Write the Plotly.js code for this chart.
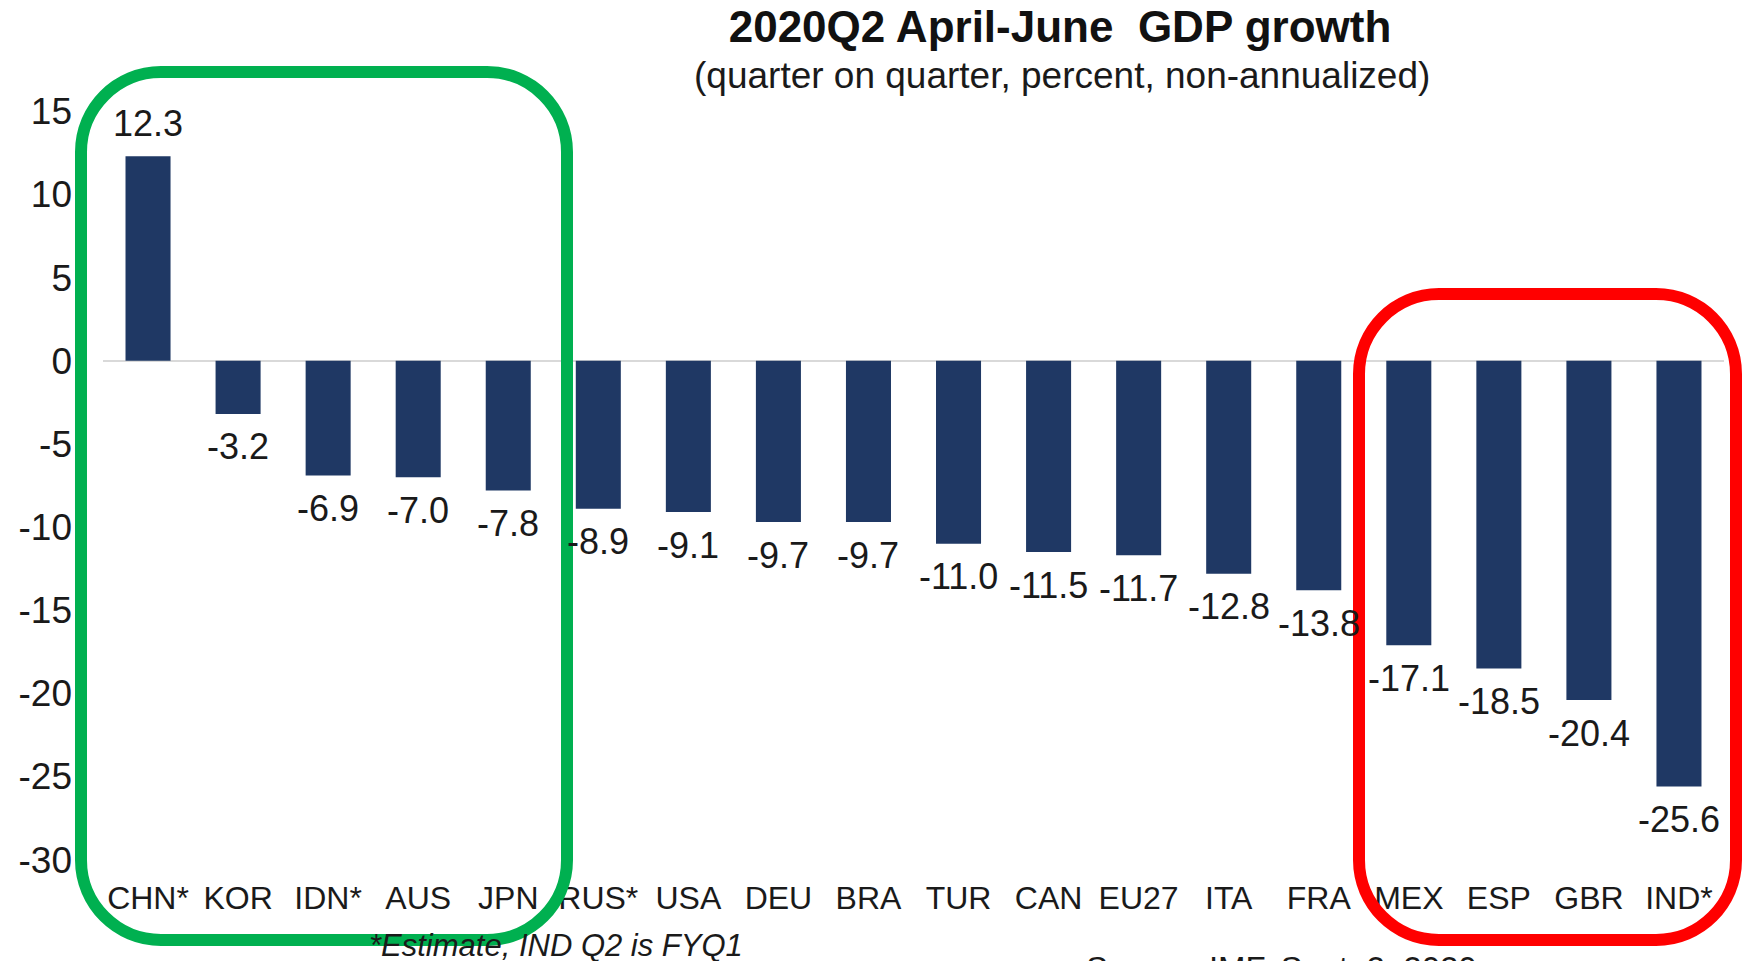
<!DOCTYPE html>
<html>
<head>
<meta charset="utf-8">
<script src="https://cdn.plot.ly/plotly-3.0.1.min.js"></script>
<style>html,body{margin:0;padding:0;background:#fff;}#chart{width:1744px;height:961px;}</style>
</head>
<body>
<div id="chart"></div>
<script>
const countries = ["CHN*", "KOR", "IDN*", "AUS", "JPN", "RUS*", "USA", "DEU", "BRA", "TUR", "CAN", "EU27", "ITA", "FRA", "MEX", "ESP", "GBR", "IND*"];
const growth = [12.3, -3.2, -6.9, -7.0, -7.8, -8.9, -9.1, -9.7, -9.7, -11.0, -11.5, -11.7, -12.8, -13.8, -17.1, -18.5, -20.4, -25.6];
const yTicks = [15, 10, 5, 0, -5, -10, -15, -20, -25, -30];

const W = 1744, H = 961;
const M = {l: 103, r: 20, t: 111, b: 101};
const PW = W - M.l - M.r, PH = H - M.t - M.b;
const px = x => (x - M.l) / PW;
const py = y => (H - M.b - y) / PH;

function roundRect(L, T, R, B, r) {
  const k = 0.5523 * r;
  const xl = px(L), xr = px(R), yt = py(T), yb = py(B);
  const rx = r / PW, ry = r / PH, kx = k / PW, ky = k / PH;
  return `M ${xl + rx},${yt} L ${xr - rx},${yt} C ${xr - rx + kx},${yt} ${xr},${yt - ry + ky} ${xr},${yt - ry} ` +
         `L ${xr},${yb + ry} C ${xr},${yb + ry - ky} ${xr - rx + kx},${yb} ${xr - rx},${yb} ` +
         `L ${xl + rx},${yb} C ${xl + rx - kx},${yb} ${xl},${yb + ry - ky} ${xl},${yb + ry} ` +
         `L ${xl},${yt - ry} C ${xl},${yt - ry + ky} ${xl + rx - kx},${yt} ${xl + rx},${yt} Z`;
}

const font = "'Liberation Sans', Arial, Helvetica, sans-serif";

const trace = {
  type: 'bar',
  x: countries,
  y: growth,
  marker: {color: '#1f3864'},
  hoverinfo: 'x+y'
};

const valueAnnotations = countries.map((c, i) => ({
  x: c, y: growth[i], xref: 'x', yref: 'y',
  text: growth[i].toFixed(1),
  showarrow: false,
  yanchor: 'middle', xanchor: 'center',
  yshift: growth[i] >= 0 ? 33 : -33,
  font: {family: font, size: 36, color: '#1a1a1a'}
}));

const layout = {
  width: W, height: H,
  margin: M,
  paper_bgcolor: '#ffffff', plot_bgcolor: '#ffffff',
  showlegend: false,
  bargap: 0.5,
  title: {
    text: '<b>2020Q2 April-June  GDP growth</b>',
    x: 1060 / W, xref: 'container', xanchor: 'center',
    y: 1 - 27 / H, yref: 'container', yanchor: 'middle',
    font: {family: font, size: 44, color: '#111111'}
  },
  xaxis: {
    type: 'category',
    showgrid: false, showline: false, zeroline: false, ticks: '',
    tickfont: {family: font, size: 32, color: '#1a1a1a'},
    ticklabelstandoff: 16
  },
  yaxis: {
    range: [-30.02, 15.02],
    tickvals: yTicks,
    ticktext: yTicks.map(String),
    showgrid: false, showline: false, ticks: '',
    zeroline: true, zerolinecolor: '#d9d9d9', zerolinewidth: 2,
    tickfont: {family: font, size: 37, color: '#1a1a1a'},
    ticklabelstandoff: 30
  },
  annotations: valueAnnotations.concat([
    {
      xref: 'paper', yref: 'paper', x: px(1062), y: py(75),
      xanchor: 'center', yanchor: 'middle', showarrow: false,
      text: '(quarter on quarter, percent, non-annualized)',
      font: {family: font, size: 37, color: '#1a1a1a'}
    },
    {
      xref: 'paper', yref: 'paper', x: px(556), y: py(926),
      xanchor: 'center', yanchor: 'top', showarrow: false,
      text: '<i>*Estimate, IND Q2 is FYQ1</i>',
      font: {family: font, size: 31, color: '#1a1a1a'}
    },
    {
      xref: 'paper', yref: 'paper', x: px(1084), y: py(948),
      xanchor: 'left', yanchor: 'top', showarrow: false,
      text: 'Source: IMF, Sept. 2, 2020',
      font: {family: font, size: 33, color: '#1a1a1a'}
    }
  ]),
  shapes: [
    {type: 'path', xref: 'paper', yref: 'paper', layer: 'above',
     path: roundRect(81, 72, 567, 940, 80), line: {color: '#00b050', width: 12}},
    {type: 'path', xref: 'paper', yref: 'paper', layer: 'above',
     path: roundRect(1359, 294, 1736, 940, 80), line: {color: '#ff0000', width: 12}}
  ]
};

Plotly.newPlot('chart', [trace], layout, {displayModeBar: false, staticPlot: true});
</script>
</body>
</html>
